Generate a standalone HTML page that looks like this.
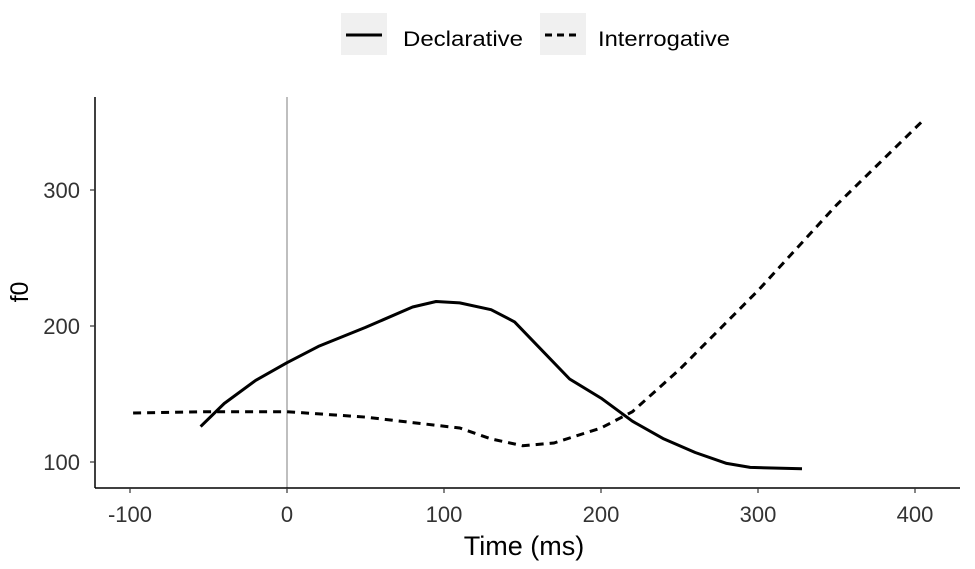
<!DOCTYPE html>
<html><head><meta charset="utf-8"><style>
body{margin:0;background:#fff;}
svg{display:block;font-family:"Liberation Sans",Arial,sans-serif;}
</style></head><body>
<svg id="chart" width="975" height="569">
  <g>
    <rect x="341" y="13" width="46" height="42" fill="#f0f0f0"/>
    <line x1="346" y1="35" x2="382" y2="35" stroke="#000" stroke-width="3"/>
    <text x="403" y="46" font-size="21" fill="#000" textLength="120" lengthAdjust="spacingAndGlyphs">Declarative</text>
    <rect x="540" y="13" width="46" height="42" fill="#f0f0f0"/>
    <line x1="545" y1="35" x2="581" y2="35" stroke="#000" stroke-width="3" stroke-dasharray="7,5"/>
    <text x="598" y="46" font-size="21" fill="#000" textLength="132" lengthAdjust="spacingAndGlyphs">Interrogative</text>
  </g>
  <g id="plot"></g>
</svg>
<script>
const xTicks=[-100,0,100,200,300,400];
const yTicks=[100,200,300];
const declX=[-55,-40,-20,0,20,50,80,95,110,130,145,160,180,200,220,240,260,280,295,328];
const declY=[126,143,160,173,185,199,214,218,217,212,203,185,161,147,130,117,107,99,96,95];
const interX=[-98,-50,0,50,80,110,130,150,170,200,220,250,300,350,405];
const interY=[136,137,137,133,129,125,117,112,114,125,137,168,226,289,351];

const L=95,R=960,T=97,B=488;
function sx(v){return 287+v*1.57;}
function sy(v){return 462-(v-100)*1.36;}
const NS="http://www.w3.org/2000/svg";
const g=document.getElementById('plot');
function mk(t,a){const e=document.createElementNS(NS,t);for(const k in a)e.setAttribute(k,a[k]);g.appendChild(e);return e;}

let e=mk('line',{x1:sx(0),y1:T,x2:sx(0),y2:B,stroke:'#aaa','stroke-width':1.5});



e=mk('line',{x1:L,y1:T,x2:L,y2:B,stroke:'#000','stroke-width':1.5});


e=mk('line',{x1:L,y1:B,x2:R,y2:B,stroke:'#000','stroke-width':1.5});



xTicks.forEach(v=>{
  let t=mk('line',{x1:sx(v),y1:B,x2:sx(v),y2:B+5,stroke:'#333','stroke-width':1.2});
  
  
  let l=mk('text',{x:sx(v),y:522,'text-anchor':'middle','font-size':22,fill:'#333'});
  l.textContent=v;
  
  
});
yTicks.forEach(v=>{
  let t=mk('line',{x1:L-5,y1:sy(v),x2:L,y2:sy(v),stroke:'#333','stroke-width':1.2});
  
  
  let l=mk('text',{x:80,y:sy(v)+8,'text-anchor':'end','font-size':22,fill:'#333'});
  l.textContent=v;
  
  
});

let xt=mk('text',{x:524,y:555,'text-anchor':'middle','font-size':27,fill:'#000'});
xt.textContent='Time (ms)';


let yt=mk('text',{x:0,y:0,'text-anchor':'middle','font-size':25,fill:'#000',transform:'translate(28,292) rotate(-90)'});
yt.textContent='f0';



function path(xs,ys){return xs.map((x,i)=>(i?'L':'M')+sx(x).toFixed(1)+','+sy(ys[i]).toFixed(1)).join(' ');}
let p1=mk('path',{d:path(declX,declY),fill:'none',stroke:'#000','stroke-width':3,'stroke-linejoin':'round'});


let p2=mk('path',{d:path(interX,interY),fill:'none',stroke:'#000','stroke-width':3,'stroke-dasharray':'8,6'});


</script>
</body></html>
